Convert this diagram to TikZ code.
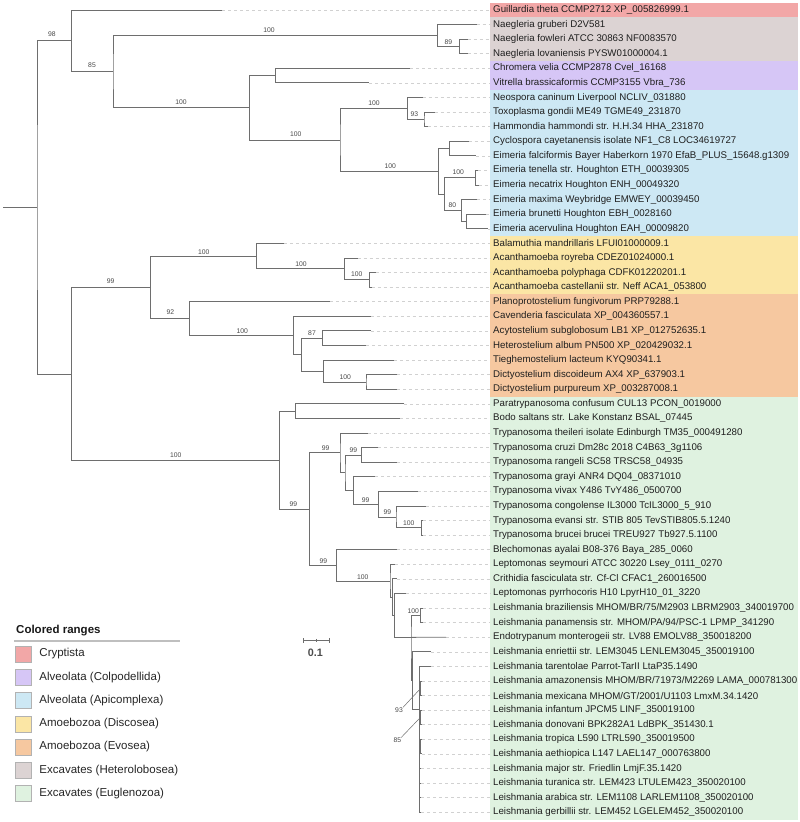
\documentclass[tikz,border=0pt]{standalone}
\usepackage{fontspec}
\setmainfont{Liberation Sans}
\usetikzlibrary{calc,arrows.meta}

\definecolor{cryptista}{HTML}{F2A7A7}
\definecolor{heterolob}{HTML}{DCD3D3}
\definecolor{colpod}{HTML}{D6C6F6}
\definecolor{apicom}{HTML}{CDE8F4}
\definecolor{discosea}{HTML}{FBE6A5}
\definecolor{evosea}{HTML}{F6C8A0}
\definecolor{euglen}{HTML}{DFF2E0}
\definecolor{branchgray}{HTML}{6E6E6E}

% colored range behind a run of leaves
\newcommand{\rangeband}[3]{\fill[#1] ($(t#2 -| bx)+(0,-7.3)$) rectangle ($(t#3 -| ex)+(0,7.3)$);}

\begin{document}
\begin{tikzpicture}[
    x=1pt, y=-1pt,
    branch/.style={draw=branchgray, line width=0.9pt},
    pointer/.style={draw=branchgray, line width=0.5pt},
    leader/.style={draw=black!18, line width=0.6pt, dash pattern=on 3pt off 3pt},
    leaf/.style={anchor=west, inner sep=0pt, text=black!88, font=\fontsize{9.7}{11}\selectfont},
    boot/.style={inner sep=0pt, text=black!72, font=\fontsize{6.8}{7}\selectfont},
    swatch/.style={draw=black!30, line width=0.5pt, minimum size=16pt, inner sep=0pt},
    legtext/.style={anchor=west, inner sep=0pt, text=black!85, font=\fontsize{11.5}{13}\selectfont},
    legtitle/.style={anchor=west, inner sep=0pt, text=black!90, font=\fontsize{11.5}{13}\selectfont\bfseries}
]
\useasboundingbox (0,0) rectangle (800,822);

% Leaf tips
\foreach \i/\tx in {1/222.3, 2/476.7, 3/467.7, 4/467.7, 5/410, 6/369, 7/422.7, 8/434.7,
    9/428, 10/468.7, 11/476, 12/478, 13/478.5, 14/477.3, 15/486, 16/488,
    17/284.3, 18/357.7, 19/375.7, 20/371.7, 21/330, 22/370.7, 23/371, 24/366.3,
    25/394, 26/397.3, 27/397.3, 28/404.3, 29/400, 30/368, 31/378.3, 32/396.7,
    33/375, 34/417.7, 35/425.7, 36/422.7, 37/422.7, 38/396.7, 39/395, 40/396.7,
    41/405.7, 42/422.5, 43/422.5, 44/446, 45/431, 46/431, 47/422.3, 48/422.3,
    49/421.8, 50/421.8, 51/422.3, 52/422.3, 53/421.3, 54/421.3, 55/421.3, 56/421.3}
  \coordinate (t\i) at (\tx, {10+(\i-1)*14.587});

\coordinate (bx) at (490,0);
\coordinate (ex) at (798,0);
\coordinate (lx) at (493,0);

% Internal nodes
\coordinate (stub) at (3,207.5);
\coordinate (r0) at (37,207.5);
\coordinate (nA) at (71.5,40.8);
\coordinate (nB) at (113,71.7);
\coordinate (nNae) at (437.3,35.5);
\coordinate (nFL) at (459.3,46.5);
\coordinate (nAlv) at (249.7,107.8);
\coordinate (nCol) at (275.3,75.6);
\coordinate (nApi) at (340,140);
\coordinate (nNTH) at (407.3,108.5);
\coordinate (nTH) at (424,119.4);
\coordinate (nEim) at (438.7,171.4);
\coordinate (nCF) at (449.7,148.6);
\coordinate (nTM) at (444.3,194.2);
\coordinate (nTN) at (475.3,177.8);
\coordinate (nMBA) at (461.3,210.6);
\coordinate (nBA) at (466.7,221.5);
\coordinate (nD) at (71.7,374.2);
\coordinate (nAmo) at (150.7,287.4);
\coordinate (nDis) at (256.7,256.2);
\coordinate (nRPC) at (344.3,268.9);
\coordinate (nPC) at (369.3,279.9);
\coordinate (nEvo) at (189.7,318.6);
\coordinate (nCav) at (293.3,335.5);
\coordinate (nAT) at (301.7,354.6);
\coordinate (nAH) at (322.3,338.2);
\coordinate (nTDD) at (323.3,371.0);
\coordinate (nDD) at (366,382.0);
\coordinate (nEug) at (279.3,460.2);
\coordinate (nPB) at (295.3,411.2);
\coordinate (nTry) at (309.3,509.2);
\coordinate (nTr) at (340,452.9);
\coordinate (nX) at (345,472.7);
\coordinate (nCR) at (361.7,455.0);
\coordinate (nY) at (353.3,490.5);
\coordinate (nZ) at (378.3,504.2);
\coordinate (nW) at (396,517.0);
\coordinate (nEB) at (421.7,527.9);
\coordinate (nBl) at (336.7,565.4);
\coordinate (nL0) at (390,581);
\coordinate (nL1) at (392.3,597.5);
\coordinate (nL2) at (394.3,615.4);
\coordinate (nL3) at (411,637.3);
\coordinate (nBP) at (420.7,615.4);
\coordinate (nL4) at (412.7,680.5);
\coordinate (nL5) at (419.3,709);
\coordinate (nAM) at (420.7,688.3);
\coordinate (nID) at (420.3,717.5);
\coordinate (nTA) at (420.7,746.7);

% Colored ranges
\rangeband{cryptista}{1}{1}
\rangeband{heterolob}{2}{4}
\rangeband{colpod}{5}{6}
\rangeband{apicom}{7}{16}
\rangeband{discosea}{17}{20}
\rangeband{evosea}{21}{27}
\rangeband{euglen}{28}{56}

% Dashed leaders from tips to labels
\foreach \i in {1,...,56}
  \draw[leader] (t\i) -- (t\i -| bx);

% Branches
\draw[branch] (stub) -- (r0);
\draw[branch] (nA) -| (r0) |- (nD);
\draw[branch] (t1) -| (nA) |- (nB);
\draw[branch] (nNae) -| (nB) |- (nAlv);
\draw[branch] (t2) -| (nNae) |- (nFL);
\draw[branch] (t3) -| (nFL) |- (t4);
\draw[branch] (nCol) -| (nAlv) |- (nApi);
\draw[branch] (t5) -| (nCol) |- (t6);
\draw[branch] (nNTH) -| (nApi) |- (nEim);
\draw[branch] (t7) -| (nNTH) |- (nTH);
\draw[branch] (t8) -| (nTH) |- (t9);
\draw[branch] (nCF) -| (nEim) |- (nTM);
\draw[branch] (t10) -| (nCF) |- (t11);
\draw[branch] (nTN) -| (nTM) |- (nMBA);
\draw[branch] (t12) -| (nTN) |- (t13);
\draw[branch] (t14) -| (nMBA) |- (nBA);
\draw[branch] (t15) -| (nBA) |- (t16);
\draw[branch] (nAmo) -| (nD) |- (nEug);
\draw[branch] (nDis) -| (nAmo) |- (nEvo);
\draw[branch] (t17) -| (nDis) |- (nRPC);
\draw[branch] (t18) -| (nRPC) |- (nPC);
\draw[branch] (t19) -| (nPC) |- (t20);
\draw[branch] (t21) -| (nEvo) |- (nCav);
\draw[branch] (t22) -| (nCav) |- (nAT);
\draw[branch] (nAH) -| (nAT) |- (nTDD);
\draw[branch] (t23) -| (nAH) |- (t24);
\draw[branch] (t25) -| (nTDD) |- (nDD);
\draw[branch] (t26) -| (nDD) |- (t27);
\draw[branch] (nPB) -| (nEug) |- (nTry);
\draw[branch] (t28) -| (nPB) |- (t29);
\draw[branch] (nTr) -| (nTry) |- (nBl);
\draw[branch] (t30) -| (nTr) |- (nX);
\draw[branch] (nCR) -| (nX) |- (nY);
\draw[branch] (t31) -| (nCR) |- (t32);
\draw[branch] (t33) -| (nY) |- (nZ);
\draw[branch] (t34) -| (nZ) |- (nW);
\draw[branch] (t35) -| (nW) |- (nEB);
\draw[branch] (t36) -| (nEB) |- (t37);
\draw[branch] (t38) -| (nBl) |- (nL0);
\draw[branch] (t39) -| (nL0) |- (nL1);
\draw[branch] (t40) -| (nL1) |- (nL2);
\draw[branch] (t41) -| (nL2) |- (nL3);
\draw[branch] (nBP) -| (nL3) |- (nL4);
\draw[branch] (nL3) -- (t44);
\draw[branch] (t42) -| (nBP) |- (t43);
\draw[branch] (t45) -| (nL4) |- (nL5);
\draw[branch] (t46) -| (nL5) |- (t56);
\draw[branch] (nL5 |- nAM) -- (nAM) (t47) -| (nAM) |- (t48);
\draw[branch] (nL5 |- nID) -- (nID) (t49) -| (nID) |- (t50);
\draw[branch] (nL5 |- nTA) -- (nTA) (t51) -| (nTA) |- (t52);
\foreach \i in {53,54,55}
  \draw[branch] (t\i -| nL5) -- (t\i);

% Bootstrap values
\foreach \x/\y/\v [count=\k] in {52/34/98, 92/65/85, 269/30/100, 448.3/42/89,
    181/101.7/100, 295.7/134/100, 374/103.3/100, 414.3/114/93, 390.3/165.7/100,
    458.3/172.3/100, 452.3/205/80, 110.7/281/99, 203.7/252/100, 301/264.3/100,
    356.7/274.3/100, 170.3/312.3/92, 242.3/331/100, 312/333.3/87, 345.3/377.3/100,
    175.7/455.3/100, 293.3/504.3/99, 325.7/448.3/99, 353.3/450/99, 365.7/500/99,
    387.3/512.3/99, 408.7/522.7/100, 323.3/560.7/99, 362.7/576.7/100, 413.3/611/100}
  \node[boot] (bs\k) at (\x,\y) {\v};
\node[boot] (b93) at (399,710) {93};
\node[boot] (b85) at (397.3,740) {85};
\draw[pointer] (b93.north east) -- (nAM);
\draw[pointer] (b85.north east) -- (nID);

% Leaf labels
\node[leaf] (lab1) at (t1 -| lx) {Guillardia theta CCMP2712 XP\_005826999.1};
\node[leaf] (lab2) at (t2 -| lx) {Naegleria gruberi D2V581};
\node[leaf] (lab3) at (t3 -| lx) {Naegleria fowleri ATCC 30863 NF0083570};
\node[leaf] (lab4) at (t4 -| lx) {Naegleria lovaniensis PYSW01000004.1};
\node[leaf] (lab5) at (t5 -| lx) {Chromera velia CCMP2878 Cvel\_16168};
\node[leaf] (lab6) at (t6 -| lx) {Vitrella brassicaformis CCMP3155 Vbra\_736};
\node[leaf] (lab7) at (t7 -| lx) {Neospora caninum Liverpool NCLIV\_031880};
\node[leaf] (lab8) at (t8 -| lx) {Toxoplasma gondii ME49 TGME49\_231870};
\node[leaf] (lab9) at (t9 -| lx) {Hammondia hammondi str. H.H.34 HHA\_231870};
\node[leaf] (lab10) at (t10 -| lx) {Cyclospora cayetanensis isolate NF1\_C8 LOC34619727};
\node[leaf] (lab11) at (t11 -| lx) {Eimeria falciformis Bayer Haberkorn 1970 EfaB\_PLUS\_15648.g1309};
\node[leaf] (lab12) at (t12 -| lx) {Eimeria tenella str. Houghton ETH\_00039305};
\node[leaf] (lab13) at (t13 -| lx) {Eimeria necatrix Houghton ENH\_00049320};
\node[leaf] (lab14) at (t14 -| lx) {Eimeria maxima Weybridge EMWEY\_00039450};
\node[leaf] (lab15) at (t15 -| lx) {Eimeria brunetti Houghton EBH\_0028160};
\node[leaf] (lab16) at (t16 -| lx) {Eimeria acervulina Houghton EAH\_00009820};
\node[leaf] (lab17) at (t17 -| lx) {Balamuthia mandrillaris LFUI01000009.1};
\node[leaf] (lab18) at (t18 -| lx) {Acanthamoeba royreba CDEZ01024000.1};
\node[leaf] (lab19) at (t19 -| lx) {Acanthamoeba polyphaga CDFK01220201.1};
\node[leaf] (lab20) at (t20 -| lx) {Acanthamoeba castellanii str. Neff ACA1\_053800};
\node[leaf] (lab21) at (t21 -| lx) {Planoprotostelium fungivorum PRP79288.1};
\node[leaf] (lab22) at (t22 -| lx) {Cavenderia fasciculata XP\_004360557.1};
\node[leaf] (lab23) at (t23 -| lx) {Acytostelium subglobosum LB1 XP\_012752635.1};
\node[leaf] (lab24) at (t24 -| lx) {Heterostelium album PN500 XP\_020429032.1};
\node[leaf] (lab25) at (t25 -| lx) {Tieghemostelium lacteum KYQ90341.1};
\node[leaf] (lab26) at (t26 -| lx) {Dictyostelium discoideum AX4 XP\_637903.1};
\node[leaf] (lab27) at (t27 -| lx) {Dictyostelium purpureum XP\_003287008.1};
\node[leaf] (lab28) at (t28 -| lx) {Paratrypanosoma confusum CUL13 PCON\_0019000};
\node[leaf] (lab29) at (t29 -| lx) {Bodo saltans str. Lake Konstanz BSAL\_07445};
\node[leaf] (lab30) at (t30 -| lx) {Trypanosoma theileri isolate Edinburgh TM35\_000491280};
\node[leaf] (lab31) at (t31 -| lx) {Trypanosoma cruzi Dm28c 2018 C4B63\_3g1106};
\node[leaf] (lab32) at (t32 -| lx) {Trypanosoma rangeli SC58 TRSC58\_04935};
\node[leaf] (lab33) at (t33 -| lx) {Trypanosoma grayi ANR4 DQ04\_08371010};
\node[leaf] (lab34) at (t34 -| lx) {Trypanosoma vivax Y486 TvY486\_0500700};
\node[leaf] (lab35) at (t35 -| lx) {Trypanosoma congolense IL3000 TcIL3000\_5\_910};
\node[leaf] (lab36) at (t36 -| lx) {Trypanosoma evansi str. STIB 805 TevSTIB805.5.1240};
\node[leaf] (lab37) at (t37 -| lx) {Trypanosoma brucei brucei TREU927 Tb927.5.1100};
\node[leaf] (lab38) at (t38 -| lx) {Blechomonas ayalai B08-376 Baya\_285\_0060};
\node[leaf] (lab39) at (t39 -| lx) {Leptomonas seymouri ATCC 30220 Lsey\_0111\_0270};
\node[leaf] (lab40) at (t40 -| lx) {Crithidia fasciculata str. Cf-Cl CFAC1\_260016500};
\node[leaf] (lab41) at (t41 -| lx) {Leptomonas pyrrhocoris H10 LpyrH10\_01\_3220};
\node[leaf] (lab42) at (t42 -| lx) {Leishmania braziliensis MHOM/BR/75/M2903 LBRM2903\_340019700};
\node[leaf] (lab43) at (t43 -| lx) {Leishmania panamensis str. MHOM/PA/94/PSC-1 LPMP\_341290};
\node[leaf] (lab44) at (t44 -| lx) {Endotrypanum monterogeii str. LV88 EMOLV88\_350018200};
\node[leaf] (lab45) at (t45 -| lx) {Leishmania enriettii str. LEM3045 LENLEM3045\_350019100};
\node[leaf] (lab46) at (t46 -| lx) {Leishmania tarentolae Parrot-TarII LtaP35.1490};
\node[leaf] (lab47) at (t47 -| lx) {Leishmania amazonensis MHOM/BR/71973/M2269 LAMA\_000781300};
\node[leaf] (lab48) at (t48 -| lx) {Leishmania mexicana MHOM/GT/2001/U1103 LmxM.34.1420};
\node[leaf] (lab49) at (t49 -| lx) {Leishmania infantum JPCM5 LINF\_350019100};
\node[leaf] (lab50) at (t50 -| lx) {Leishmania donovani BPK282A1 LdBPK\_351430.1};
\node[leaf] (lab51) at (t51 -| lx) {Leishmania tropica L590 LTRL590\_350019500};
\node[leaf] (lab52) at (t52 -| lx) {Leishmania aethiopica L147 LAEL147\_000763800};
\node[leaf] (lab53) at (t53 -| lx) {Leishmania major str. Friedlin LmjF.35.1420};
\node[leaf] (lab54) at (t54 -| lx) {Leishmania turanica str. LEM423 LTULEM423\_350020100};
\node[leaf] (lab55) at (t55 -| lx) {Leishmania arabica str. LEM1108 LARLEM1108\_350020100};
\node[leaf] (lab56) at (t56 -| lx) {Leishmania gerbillii str. LEM452 LGELEM452\_350020100};

% Scale bar
\coordinate (sbl) at (302.7,640.3);
\coordinate (sbr) at (329.3,640.3);
\draw[branch, line width=0.8pt, {Bar[width=5pt]}-{Bar[width=5pt]}] (sbl) -- (sbr);
\draw[branch, line width=0.6pt] ($(sbl)!0.5!(sbr)+(0,-1.5)$) -- ($(sbl)!0.5!(sbr)+(0,1.5)$);
\node[inner sep=0pt, text=black!70, font=\fontsize{10.8}{12}\selectfont\bfseries] (sblab) at (315.3,652.7) {0.1};

% Legend
\node[legtitle] (legt) at (16,630.7) {Colored ranges};
\coordinate (rl) at (14,641);
\coordinate (rr) at (180,641);
\draw[draw=black!25, line width=1.4pt] (rl) -- (rr);
\foreach \c/\t [count=\k] in {cryptista/Cryptista, colpod/Alveolata (Colpodellida),
    apicom/Alveolata (Apicomplexa), discosea/Amoebozoa (Discosea), evosea/Amoebozoa (Evosea),
    heterolob/Excavates (Heterolobosea), euglen/Excavates (Euglenozoa)}
{
  \node[swatch, fill=\c] (sw\k) at (23.3, {654+23.25*(\k-1)}) {};
  \node[legtext] (lt\k) at ([xshift=7.7pt]sw\k.east) {\t};
}

\end{tikzpicture}
\end{document}
